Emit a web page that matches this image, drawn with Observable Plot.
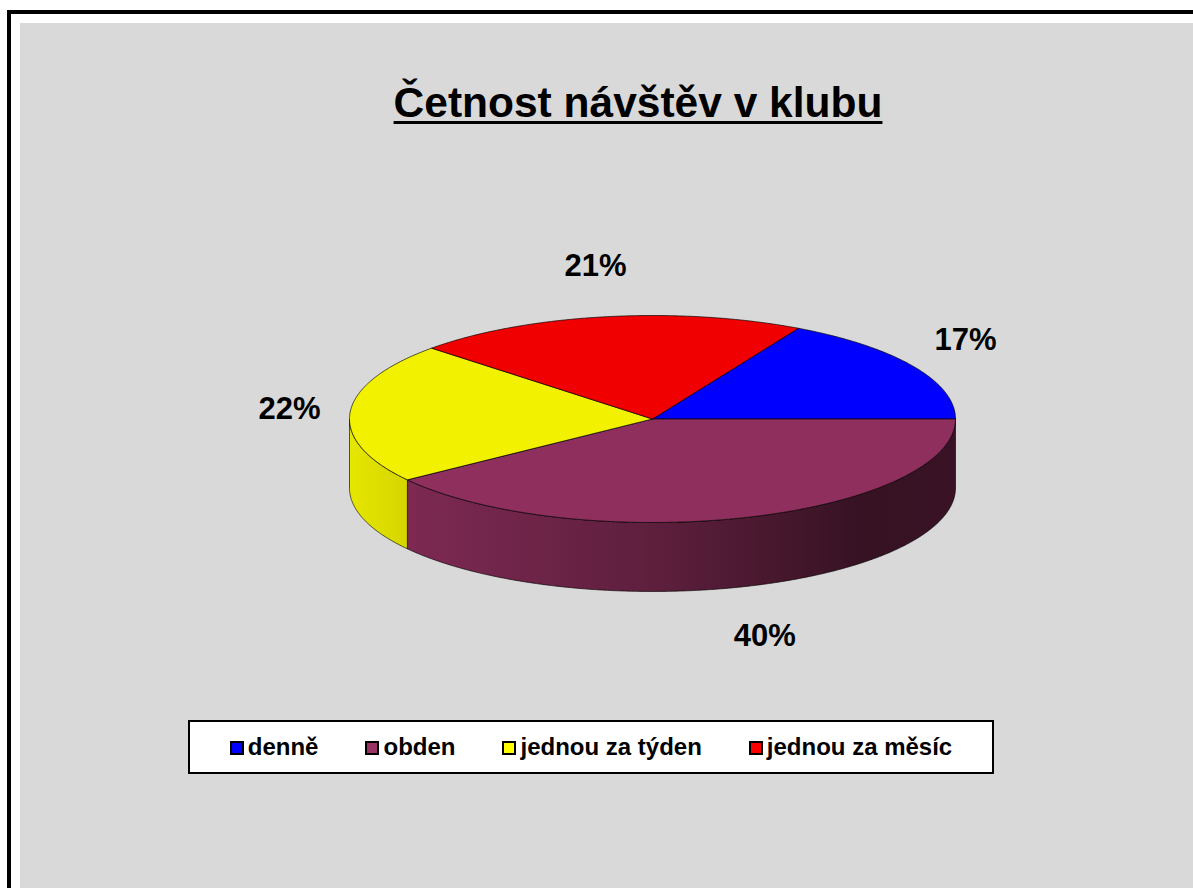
<!DOCTYPE html>
<html>
<head>
<meta charset="utf-8">
<script src="https://cdn.jsdelivr.net/npm/d3@7"></script>
<script src="https://cdn.jsdelivr.net/npm/@observablehq/plot@0.6"></script>
<style>
  html, body { margin: 0; padding: 0; background: #fff; }
  body { font-family: "Liberation Sans", Arial, sans-serif; }
  #frame { position: relative; width: 1193px; height: 888px; overflow: hidden; background: #fff; }
  #border { position: absolute; left: 7px; top: 10px; width: 1400px; height: 1100px;
            border-left: 4px solid #000; border-top: 4px solid #000; }
  #gray { position: absolute; left: 20px; top: 23px; right: 0; bottom: 0; background: #d9d9d9; }
  #title { position: absolute; left: 0; top: 82px; width: 1276px; text-align: center;
           font-size: 42.5px; line-height: 42px; font-weight: bold; color: #000;
           text-decoration: underline; text-decoration-thickness: 3px; text-underline-offset: 4px; }
  #chart { position: absolute; left: 0; top: 0; }
  #chart svg { overflow: visible; background: transparent; }
  #legend { position: absolute; left: 188px; top: 720px; width: 806px; height: 54px; box-sizing: border-box;
            border: 2px solid #000; background: #fff; display: flex; justify-content: center;
            align-items: center; gap: 47px; font-size: 24px; font-weight: bold; color: #000; }
  #legend .item { display: flex; align-items: center; }
  #legend .sw { width: 10px; height: 10px; border: 2px solid #000; margin-right: 4px; position: relative; top: 1px; }
</style>
</head>
<body>
<div id="frame">
  <div id="border"></div>
  <div id="gray"></div>
  <div id="title">Četnost návštěv v klubu</div>
  <div id="chart"></div>
  <div id="legend"></div>
</div>
<script>
// ---- data ----
const categories = ["denně", "obden", "jednou za týden", "jednou za měsíc"];
const values = [17, 40, 22, 21];
const labels = ["17%", "40%", "22%", "21%"];
const topColors = ["#0000ff", "#8e2f5d", "#f2f200", "#f00000"];
const legendColors = ["#0000ff", "#993366", "#ffff00", "#ff0000"];

// ---- geometry (3D pie as tilted ellipse) ----
const X0 = 349, X1 = 955;        // ellipse horizontal extent (px)
const Y0 = 315, Y1 = 522;        // ellipse vertical extent (px)
const depth = 69 / ((Y1 - Y0) / 2);   // side height in y units
const TAU = 2 * Math.PI;
const total = d3.sum(values);
const start = -values[0] / total * TAU;   // first slice ends at 3 o'clock

let acc = 0;
const slices = categories.map((c, i) => {
  const a0 = start + acc / total * TAU;
  acc += values[i];
  const a1 = start + acc / total * TAU;
  return {c, i, a0, a1, label: labels[i]};
});

function arc(a0, a1, dy = 0) {
  const n = Math.max(2, Math.ceil(Math.abs(a1 - a0) / (Math.PI / 360)));
  return d3.range(n + 1).map(k => {
    const t = a0 + (a1 - a0) * k / n;
    return {x: Math.cos(t), y: Math.sin(t) + dy};
  });
}

const topPts = slices.flatMap(s =>
  [{x: 0, y: 0}, ...arc(s.a0, s.a1), {x: 0, y: 0}].map(p => ({...p, cat: s.c})));

const sides = [];
slices.forEach(s => {
  for (const off of [-TAU, 0, TAU]) {
    const lo = Math.max(s.a0, off), hi = Math.min(s.a1, off + Math.PI);
    if (hi > lo) {
      const pts = [...arc(lo, hi), ...arc(hi, lo, depth)];
      pts.push(pts[0]);
      sides.push({i: s.i, pts});
    }
  }
});

const labelPts = slices.map(s => {
  const m = (s.a0 + s.a1) / 2;
  const sy = Math.sin(m);
  return {x: 1.2 * Math.cos(m), y: 1.5 * sy + (sy > 0 ? depth : 0), text: s.label};
});

const shade = [[0, 0.95], [0.1, 0.88], [0.5, 0.66], [0.85, 0.38], [1, 0.40]];
function defsMark() {
  const defs = d3.create("svg:defs");
  topColors.forEach((col, i) => {
    const c = d3.rgb(col);
    const g = defs.append("linearGradient").attr("id", "side" + i)
      .attr("gradientUnits", "userSpaceOnUse")
      .attr("x1", X0).attr("x2", X1).attr("y1", 0).attr("y2", 0);
    shade.forEach(([o, k]) => {
      g.append("stop").attr("offset", o)
        .attr("stop-color", d3.rgb(c.r * k, c.g * k, c.b * k).formatHex());
    });
  });
  return defs.node();
}

const plot = Plot.plot({
  width: 1193,
  height: 888,
  margin: 0,
  style: {background: "transparent", fontFamily: "Liberation Sans, Arial, sans-serif"},
  x: {domain: [-1, 1], range: [X0, X1], axis: null},
  y: {domain: [-1, 1], range: [Y0, Y1], axis: null},
  color: {domain: categories, range: topColors},
  marks: [
    defsMark,
    ...sides.map(s => Plot.line(s.pts, {
      x: "x", y: "y", fill: `url(#side${s.i})`,
      stroke: "#000", strokeWidth: 0.8, strokeOpacity: 0.8, curve: "linear"
    })),
    Plot.line(topPts, {
      x: "x", y: "y", z: "cat", fill: "cat",
      stroke: "#000", strokeWidth: 0.8, strokeOpacity: 0.85, curve: "linear"
    }),
    Plot.text(labelPts, {
      x: "x", y: "y", text: "text", fontSize: 31, fontWeight: "bold", fill: "#000"
    })
  ]
});
document.getElementById("chart").appendChild(plot);

// ---- legend ----
const legend = d3.select("#legend");
categories.forEach((c, i) => {
  const it = legend.append("div").attr("class", "item");
  it.append("span").attr("class", "sw").style("background", legendColors[i]);
  it.append("span").text(c);
});
</script>
</body>
</html>
